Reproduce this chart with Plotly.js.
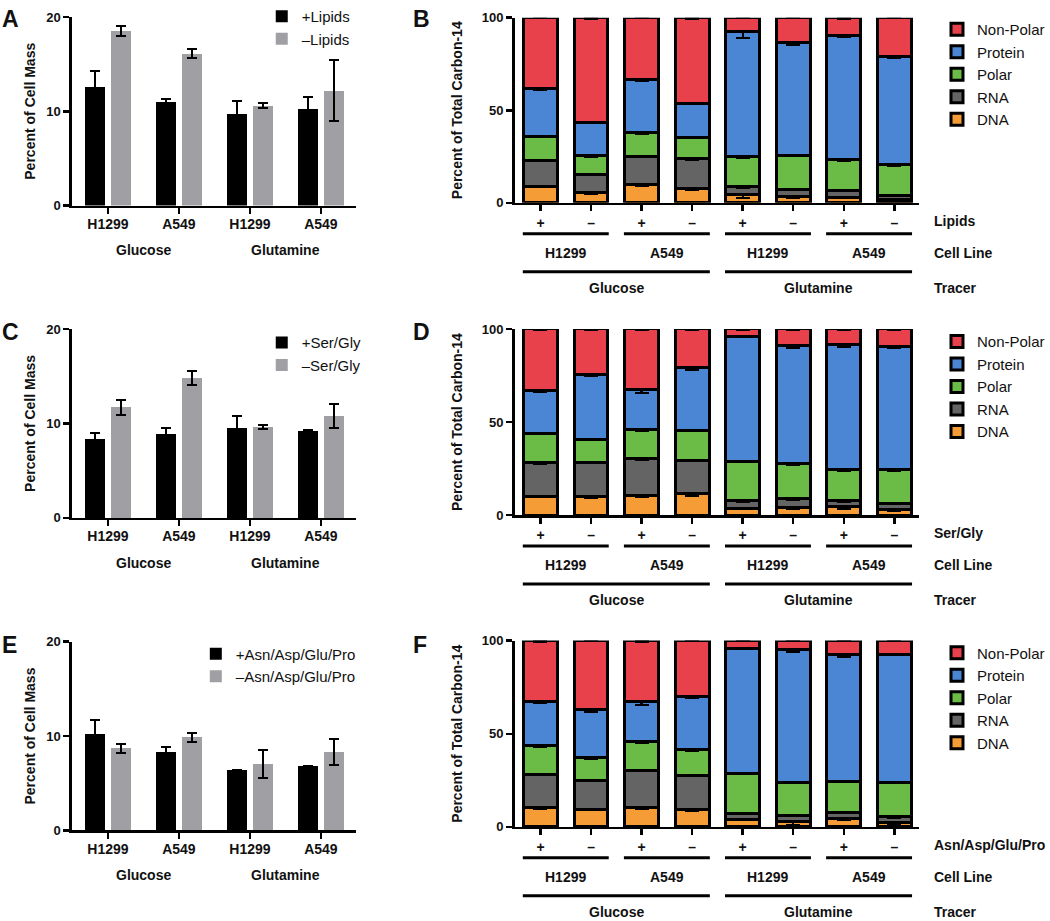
<!DOCTYPE html>
<html><head><meta charset="utf-8">
<script src="https://cdn.plot.ly/plotly-3.0.1.min.js"></script>
<style>html,body{margin:0;padding:0;background:#fff}#chart{width:1050px;height:921px}</style>
</head><body><div id="chart"></div>
<script>
// ================= DATA =================
const cellLines = ['H1299', 'A549', 'H1299', 'A549'];
const tracers = ['Glucose', 'Glutamine'];
const supplementSigns = ['+', '–', '+', '–', '+', '–', '+', '–'];
const componentNames = ['DNA', 'RNA', 'Polar', 'Protein', 'Non-Polar'];

// Panel A: percent of cell mass, lipids
const lipidsPlus = [12.6, 11.0, 9.7, 10.2];
const lipidsPlusErr = [1.7, 0.3, 1.4, 1.3];
const lipidsMinus = [18.5, 16.1, 10.6, 12.2];
const lipidsMinusErr = [0.5, 0.45, 0.25, 3.2];

// Panel C: percent of cell mass, Ser/Gly
const serGlyPlus = [8.3, 8.9, 9.5, 9.2];
const serGlyPlusErr = [0.65, 0.6, 1.3, 0.1];
const serGlyMinus = [11.7, 14.8, 9.6, 10.8];
const serGlyMinusErr = [0.8, 0.7, 0.2, 1.25];

// Panel E: percent of cell mass, Asn/Asp/Glu/Pro
const aaPlus = [10.2, 8.3, 6.4, 6.8];
const aaPlusErr = [1.5, 0.55, 0.05, 0.05];
const aaMinus = [8.7, 9.85, 7.05, 8.3];
const aaMinusErr = [0.45, 0.45, 1.45, 1.35];

// Panel B: percent of total carbon-14 (lipids)
const dnaB = [8.8, 5.7, 9.9, 7.9, 4.7, 3.6, 2.9, 1.8];
const rnaB = [14.2, 9.7, 15.2, 15.8, 4.3, 3.6, 3.6, 2.4];
const polarB = [13.0, 10.1, 12.8, 11.5, 15.8, 18.5, 16.7, 16.4];
const proteinB = [26.0, 17.9, 28.7, 18.3, 67.8, 60.7, 67.1, 58.2];
const nonPolarB = [38.0, 56.6, 33.4, 46.5, 7.4, 13.6, 9.7, 21.2];
const dnaBErr = [0.3, 0.8, 0.8, 0.8, 2.0, 0.9, 0.3, 0.3];
const rnaBErr = [0.3, 0.3, 0.3, 0.3, 0.9, 0.3, 0.3, 0.5];
const polarBErr = [0.6, 0.7, 0.7, 0.3, 0.3, 0.3, 0.3, 0.5];
const proteinBErr = [1.0, 0.4, 0.5, 0.3, 3.6, 0.9, 0.9, 0.3];
const nonPolarBErr = [0.3, 0.4, 0.3, 0.6, 0.3, 0.3, 0.5, 0.3];

// Panel D: percent of total carbon-14 (Ser/Gly)
const dnaD = [10.2, 10.0, 10.4, 11.6, 3.7, 4.3, 4.6, 3.2];
const rnaD = [18.2, 18.4, 20.0, 17.7, 4.0, 4.4, 3.1, 3.2];
const polarD = [15.5, 12.5, 15.7, 16.1, 21.2, 18.8, 16.6, 17.9];
const proteinD = [23.2, 34.5, 21.4, 34.1, 67.1, 63.8, 67.3, 66.4];
const nonPolarD = [32.9, 24.6, 32.5, 20.5, 4.0, 8.7, 8.4, 9.3];
const dnaDErr = [0.3, 0.6, 0.6, 1.5, 0.3, 0.7, 1.2, 0.8];
const rnaDErr = [0.6, 0.3, 0.9, 0.3, 0.3, 0.3, 0.6, 0.6];
const polarDErr = [0.3, 0.3, 0.6, 0.3, 0.3, 0.3, 0.3, 0.3];
const proteinDErr = [1.0, 0.4, 2.0, 1.5, 0.3, 1.2, 1.0, 1.0];
const nonPolarDErr = [0.3, 0.6, 0.3, 0.3, 0.3, 0.3, 0.3, 0.3];

// Panel F: percent of total carbon-14 (Asn/Asp/Glu/Pro)
const dnaF = [10.2, 9.2, 10.6, 9.3, 3.8, 2.7, 4.7, 2.3];
const rnaF = [17.8, 15.9, 19.7, 18.2, 3.4, 3.6, 3.2, 3.1];
const polarF = [15.8, 12.1, 15.7, 13.8, 21.7, 17.4, 16.3, 18.3];
const proteinF = [23.5, 26.0, 21.5, 28.9, 67.0, 71.3, 68.1, 68.9];
const nonPolarF = [32.7, 36.8, 32.5, 29.8, 4.1, 5.0, 7.7, 7.4];
const dnaFErr = [0.3, 0.3, 0.8, 0.8, 0.3, 1.5, 1.2, 0.5];
const rnaFErr = [0.3, 0.3, 0.3, 0.3, 0.3, 0.3, 0.6, 0.5];
const polarFErr = [0.6, 0.8, 0.8, 0.3, 0.3, 0.3, 0.3, 0.3];
const proteinFErr = [1.0, 1.2, 2.0, 0.9, 0.3, 1.0, 1.2, 0.5];
const nonPolarFErr = [0.5, 0.3, 0.5, 0.3, 0.3, 0.3, 0.3, 0.3];

// ================= STYLE / LAYOUT =================
const W = 1050, H = 921;
const px = v => v / W;
const py = v => 1 - v / H;
const FONT = 'Liberation Sans, Arial, Helvetica, sans-serif';
const INK = '#111111';
const compColors = ['#F59C36', '#646464', '#6BBB47', '#4A86D4', '#E8414B'];
const GREY = '#A0A0A4';

const traces = [];

function groupedPanel(ax, plus, plusErr, minus, minusErr, labels, legendId) {
  const off = 0.183, w = 0.28;
  const err = arr => ({type: 'data', array: arr, visible: true, color: '#000', thickness: 2, width: 5});
  traces.push({type: 'bar', name: labels[0], x: plus.map((_, i) => i - off), y: plus, width: w,
    marker: {color: '#000000', line: {width: 0}}, error_y: err(plusErr),
    xaxis: 'x' + ax.x, yaxis: 'y' + ax.y, legend: legendId, cliponaxis: false, hoverinfo: 'y'});
  traces.push({type: 'bar', name: labels[1], x: minus.map((_, i) => i + off), y: minus, width: w,
    marker: {color: GREY, line: {width: 0}}, error_y: err(minusErr),
    xaxis: 'x' + ax.x, yaxis: 'y' + ax.y, legend: legendId, cliponaxis: false, hoverinfo: 'y'});
}

function stackedPanel(ax, series, errs, legendId) {
  series.forEach((vals, k) => {
    traces.push({type: 'bar', name: componentNames[k], x: supplementSigns.map((_, i) => i), y: vals, width: 0.67,
      marker: {color: compColors[k], line: {color: '#000', width: 3}},
      error_y: {type: 'data', array: errs[k], visible: true, color: '#000', thickness: 2.2, width: 7},
      xaxis: 'x' + ax.x, yaxis: 'y' + ax.y, legend: legendId, cliponaxis: false, hoverinfo: 'y+name'});
  });
}

groupedPanel({x: '', y: ''}, lipidsPlus, lipidsPlusErr, lipidsMinus, lipidsMinusErr, ['+Lipids', '–Lipids'], 'legend');
stackedPanel({x: '2', y: '2'}, [dnaB, rnaB, polarB, proteinB, nonPolarB], [dnaBErr, rnaBErr, polarBErr, proteinBErr, nonPolarBErr], 'legend2');
groupedPanel({x: '3', y: '3'}, serGlyPlus, serGlyPlusErr, serGlyMinus, serGlyMinusErr, ['+Ser/Gly', '–Ser/Gly'], 'legend3');
stackedPanel({x: '4', y: '4'}, [dnaD, rnaD, polarD, proteinD, nonPolarD], [dnaDErr, rnaDErr, polarDErr, proteinDErr, nonPolarDErr], 'legend4');
groupedPanel({x: '5', y: '5'}, aaPlus, aaPlusErr, aaMinus, aaMinusErr, ['+Asn/Asp/Glu/Pro', '–Asn/Asp/Glu/Pro'], 'legend5');
stackedPanel({x: '6', y: '6'}, [dnaF, rnaF, polarF, proteinF, nonPolarF], [dnaFErr, rnaFErr, polarFErr, proteinFErr, nonPolarFErr], 'legend6');

const axBase = {
  showline: true, linecolor: '#000', linewidth: 2.5, ticks: 'outside', ticklen: 6, tickwidth: 2.5, tickcolor: '#000',
  showgrid: false, zeroline: false, fixedrange: true, automargin: false,
  tickfont: {family: FONT, size: 13, color: INK, weight: 'bold'}
};

function xGrouped(anchor) {
  return Object.assign({}, axBase, {anchor, domain: [px(72), px(356)], range: [-0.507, 3.49],
    tickmode: 'array', tickvals: cellLines.map((_, i) => i), ticktext: cellLines, ticklabelstandoff: -2,
    tickfont: {family: FONT, size: 14, color: INK, weight: 'bold'}});
}
function yGrouped(anchor, top, bottom, title) {
  return Object.assign({}, axBase, {anchor, domain: [py(bottom), py(top)], range: [0, 20],
    tickmode: 'array', tickvals: [0, 10, 20],
    title: {text: title, font: {family: FONT, size: 14, color: INK, weight: 'bold'}, standoff: 8}});
}
function xStacked(anchor) {
  return Object.assign({}, axBase, {anchor, domain: [px(515), px(920)], range: [-0.514, 7.49],
    tickmode: 'array', tickvals: supplementSigns.map((_, i) => i), ticktext: supplementSigns,
    tickfont: {family: FONT, size: 14, color: INK, weight: 'bold'}});
}
function yStacked(anchor, top, bottom) {
  return Object.assign({}, axBase, {anchor, domain: [py(bottom), py(top)], range: [0, 100],
    tickmode: 'array', tickvals: [0, 50, 100],
    title: {text: 'Percent of Total Carbon-14', font: {family: FONT, size: 14, color: INK, weight: 'bold'}, standoff: 16}});
}

// panel pixel frames: [top, bottom]
const rowsGrouped = [[15, 204], [327.7, 517], [641, 830.3]];
const rowsStacked = [[15.7, 201.3], [327.7, 514.3], [640, 826.7]];
const factorLabels = ['Lipids', 'Ser/Gly', 'Asn/Asp/Glu/Pro'];
const letters = [['A', 'B'], ['C', 'D'], ['E', 'F']];

const annotations = [];
const shapes = [];
const boldFont = (s) => ({family: FONT, size: s, color: INK, weight: 'bold'});

rowsGrouped.forEach((r, i) => {
  const xa = i === 0 ? 'x' : 'x' + (2 * i + 1);
  tracers.forEach((t, k) => {
    annotations.push({text: t, xref: xa, x: 2 * k + 0.5, yref: 'paper', y: py(r[1] + 45),
      showarrow: false, xanchor: 'center', yanchor: 'middle', font: boldFont(14)});
  });
});

rowsStacked.forEach((r, i) => {
  const xa = 'x' + (2 * i + 2);
  const b = r[1];
  annotations.push({text: factorLabels[i], xref: 'paper', x: px(933), yref: 'paper', y: py(b + 18),
    showarrow: false, xanchor: 'left', yanchor: 'middle', font: boldFont(14)});
  annotations.push({text: 'Cell Line', xref: 'paper', x: px(933), yref: 'paper', y: py(b + 50),
    showarrow: false, xanchor: 'left', yanchor: 'middle', font: boldFont(14)});
  annotations.push({text: 'Tracer', xref: 'paper', x: px(933), yref: 'paper', y: py(b + 85),
    showarrow: false, xanchor: 'left', yanchor: 'middle', font: boldFont(14)});
  cellLines.forEach((c, g) => {
    annotations.push({text: c, xref: xa, x: 2 * g + 0.5, yref: 'paper', y: py(b + 50),
      showarrow: false, xanchor: 'center', yanchor: 'middle', font: boldFont(14)});
    shapes.push({type: 'line', xref: xa, x0: 2 * g - 0.35, x1: 2 * g + 1.35, yref: 'paper', y0: py(b + 31), y1: py(b + 31),
      line: {color: '#000', width: 3}});
  });
  tracers.forEach((t, k) => {
    annotations.push({text: t, xref: xa, x: 4 * k + 1.5, yref: 'paper', y: py(b + 85),
      showarrow: false, xanchor: 'center', yanchor: 'middle', font: boldFont(14)});
    shapes.push({type: 'line', xref: xa, x0: 4 * k - 0.35, x1: 4 * k + 3.35, yref: 'paper', y0: py(b + 69), y1: py(b + 69),
      line: {color: '#000', width: 3}});
  });
});

const letterRows = [2, 316, 629];
letters.forEach((pair, i) => {
  annotations.push({text: pair[0], xref: 'paper', x: px(0), yref: 'paper', y: py(letterRows[i]),
    showarrow: false, xanchor: 'left', yanchor: 'top', font: boldFont(23)});
  annotations.push({text: pair[1], xref: 'paper', x: px(411), yref: 'paper', y: py(letterRows[i]),
    showarrow: false, xanchor: 'left', yanchor: 'top', font: boldFont(23)});
});

const legendBase = {font: {family: FONT, size: 15, color: INK}, bgcolor: 'rgba(0,0,0,0)', borderwidth: 0,
  xanchor: 'left', yanchor: 'top', itemwidth: 30, tracegroupgap: 0, itemclick: false, itemdoubleclick: false};

const layout = {
  width: W, height: H, margin: {l: 0, r: 0, t: 0, b: 0, pad: 0},
  paper_bgcolor: '#fff', plot_bgcolor: 'rgba(0,0,0,0)',
  barmode: 'stack', bargap: 0, showlegend: true,
  font: {family: FONT, color: INK},
  xaxis: xGrouped('y'), yaxis: yGrouped('x', 15, 204, 'Percent of Cell Mass'),
  xaxis2: xStacked('y2'), yaxis2: yStacked('x2', 15.7, 201.3),
  xaxis3: xGrouped('y3'), yaxis3: yGrouped('x3', 327.7, 517, 'Percent of Cell Mass'),
  xaxis4: xStacked('y4'), yaxis4: yStacked('x4', 327.7, 514.3),
  xaxis5: xGrouped('y5'), yaxis5: yGrouped('x5', 641, 830.3, 'Percent of Cell Mass'),
  xaxis6: xStacked('y6'), yaxis6: yStacked('x6', 640, 826.7),
  legend: Object.assign({}, legendBase, {x: px(262), y: py(-2), traceorder: 'normal'}),
  legend3: Object.assign({}, legendBase, {x: px(262), y: py(325), traceorder: 'normal'}),
  legend5: Object.assign({}, legendBase, {x: px(196), y: py(637), traceorder: 'normal'}),
  legend2: Object.assign({}, legendBase, {x: px(938), y: py(11), traceorder: 'reversed'}),
  legend4: Object.assign({}, legendBase, {x: px(938), y: py(324), traceorder: 'reversed'}),
  legend6: Object.assign({}, legendBase, {x: px(938), y: py(636), traceorder: 'reversed'}),
  annotations, shapes
};

Plotly.newPlot('chart', traces, layout, {staticPlot: true, displayModeBar: false});
</script>
</body></html>
